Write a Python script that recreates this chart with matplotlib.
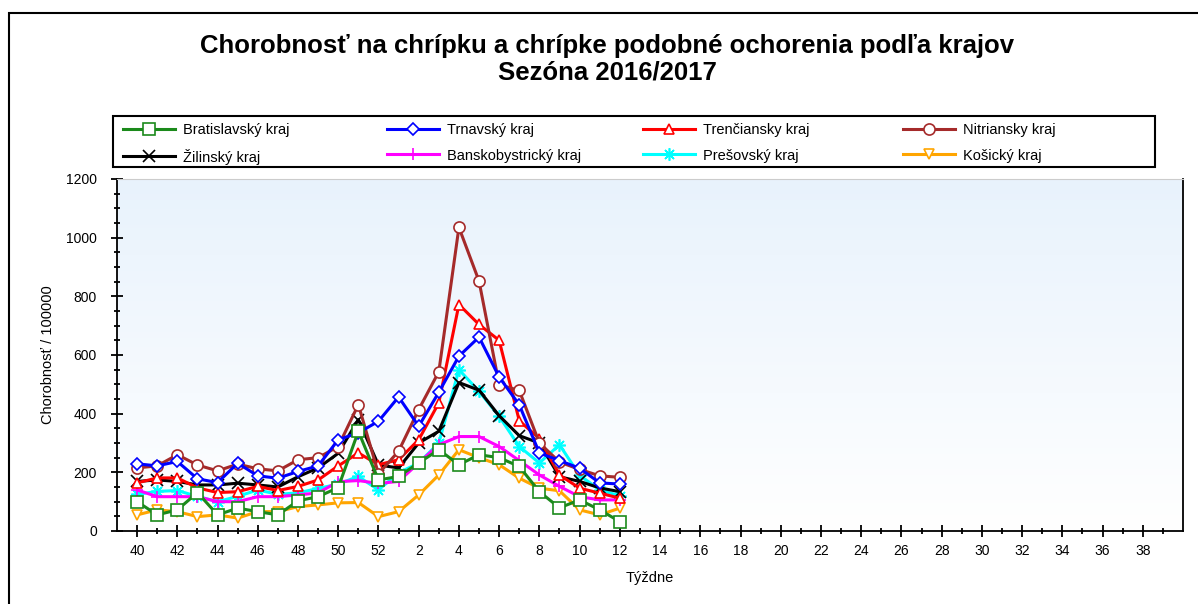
import numpy as np
import matplotlib
matplotlib.use("Agg")
import matplotlib.pyplot as plt
from matplotlib.patches import Rectangle
from matplotlib.ticker import MultipleLocator, FixedLocator, FixedFormatter

plt.rcParams['font.family'] = ['Liberation Sans', 'DejaVu Sans']

# season weeks 40..52, 1..12 (position index 0..24), axis runs to week 39
weeks = list(range(40, 53)) + list(range(1, 40))
tick_labels = [str(w) for w in weeks]

bratislava = [100, 55, 72, 131, 55, 78, 66, 55, 103, 117, 148, 340, 174,
              186, 232, 277, 226, 260, 250, 220, 134, 79, 106, 72, 32]
trnava = [229, 222, 237, 178, 165, 231, 188, 180, 203, 222, 311, 335, 374,
          457, 357, 473, 596, 661, 525, 430, 266, 240, 214, 164, 160]
trencin = [164, 181, 181, 147, 131, 134, 152, 138, 152, 174, 222, 266, 226,
           243, 311, 437, 772, 704, 650, 376, 315, 191, 146, 129, 112]
nitra = [215, 222, 260, 225, 205, 228, 212, 205, 243, 250, 288, 431, 195,
         272, 414, 543, 1035, 852, 499, 479, 300, 235, 210, 188, 183]
zilina = [169, 174, 169, 157, 157, 163, 157, 150, 185, 215, 265, 380, 225,
          215, 300, 340, 506, 480, 393, 325, 300, 185, 169, 147, 134]
bbystrica = [140, 117, 117, 117, 100, 100, 117, 117, 123, 130, 168, 172, 162,
             169, 232, 294, 322, 322, 288, 240, 191, 152, 117, 106, 106]
presov = [125, 135, 138, 118, 100, 118, 140, 125, 130, 145, 160, 186, 140,
          198, 232, 300, 550, 476, 391, 288, 232, 294, 190, 140, 120]
kosice = [55, 72, 66, 49, 55, 44, 66, 66, 83, 89, 96, 97, 49,
          66, 123, 191, 277, 250, 226, 180, 146, 137, 72, 55, 78]

names = ['Bratislavský kraj', 'Trnavský kraj', 'Trenčiansky kraj', 'Nitriansky kraj',
         'Žilinský kraj', 'Banskobystrický kraj', 'Prešovský kraj', 'Košický kraj']
series = [bratislava, trnava, trencin, nitra, zilina, bbystrica, presov, kosice]
colors = ['#1b8a1b', '#0000ff', '#ff0000', '#a52a2a',
          '#000000', '#ff00ff', '#00ffff', '#ffa500']
markers = ['s', 'D', '^', 'o', 'x', '+', (8, 2, 0), 'v']
msizes = [8, 6, 7, 8, 8, 9, 9, 7]
zorders = [10, 9, 7, 8, 6, 5, 4, 3]

W, H = 1198, 604
fig = plt.figure(figsize=(W / 100, H / 100), dpi=100)
ax = fig.add_axes([117 / W, 1 - 531 / H, (1183 - 117) / W, (531 - 179) / H])

# light blue gradient background
grad = np.linspace(1, 0, 256).reshape(-1, 1)
top = np.array([0.91, 0.95, 0.99])
bot = np.array([1.0, 1.0, 1.0])
img = bot + (top - bot) * grad[..., None]
ax.imshow(img, extent=[0, 1, 0, 1], transform=ax.transAxes, aspect='auto', zorder=0)

x = np.arange(len(bratislava))
handles = []
for name, vals, c, m, ms, z in zip(names, series, colors, markers, msizes, zorders):
    h, = ax.plot(x, vals, color=c, lw=2.2, marker=m, ms=ms, mfc='white', mec=c,
                 mew=1.2, zorder=z, label=name)
    handles.append(h)

ax.set_xlim(-1, 52)
ax.set_ylim(0, 1200)
ax.xaxis.set_major_locator(FixedLocator(np.arange(0, 52, 2)))
ax.xaxis.set_major_formatter(FixedFormatter(tick_labels[0:52:2]))
ax.xaxis.set_minor_locator(FixedLocator(np.arange(1, 52, 2)))
ax.yaxis.set_major_locator(MultipleLocator(200))
ax.yaxis.set_minor_locator(MultipleLocator(50))
ax.tick_params(which='major', direction='inout', length=9, width=1.3, labelsize=10)
ax.tick_params(which='minor', direction='inout', length=5, width=1.3)
ax.tick_params(axis='y', pad=10)
ax.tick_params(axis='x', pad=5)
for s in ax.spines.values():
    s.set_linewidth(1.3)
ax.spines['top'].set_color('#cccccc')
ax.spines['top'].set_linewidth(0.8)

ax.set_xlabel('Týždne', fontsize=10.5, labelpad=9)
ax.set_ylabel('Chorobnosť / 100000', fontsize=10.5, labelpad=8)

# legend: four fixed-width columns inside one frame
col_x = [120, 384, 640, 900]
for k, cx in enumerate(col_x):
    pair = [k, k + 4]
    leg = fig.legend([handles[i] for i in pair], [names[i] for i in pair],
                     loc='upper left', bbox_to_anchor=(cx / W, 1 - 120 / H),
                     fontsize=10.5, frameon=False, handlelength=3.6,
                     handletextpad=0.55, borderpad=0.2, labelspacing=0.8,
                     borderaxespad=0)
fig.patches.append(Rectangle((113 / W, 1 - 167 / H), (1155 - 113) / W, 51 / H,
                             transform=fig.transFigure, fill=False,
                             edgecolor='black', lw=1.5))

fig.text(0.507, 1 - 46 / H, 'Chorobnosť na chrípku a chrípke podobné ochorenia podľa krajov',
         ha='center', va='center', fontsize=18.5, fontweight='bold')
fig.text(0.507, 1 - 73 / H, 'Sezóna 2016/2017', ha='center', va='center',
         fontsize=18.5, fontweight='bold')

# outer frame (cut off at right and bottom)
fig.patches.append(Rectangle((9 / W, -0.1), 1.2, 1 - 13 / H + 0.1,
                             transform=fig.transFigure, fill=False,
                             edgecolor='black', lw=1.5))

fig.savefig('out.png', dpi=100)
